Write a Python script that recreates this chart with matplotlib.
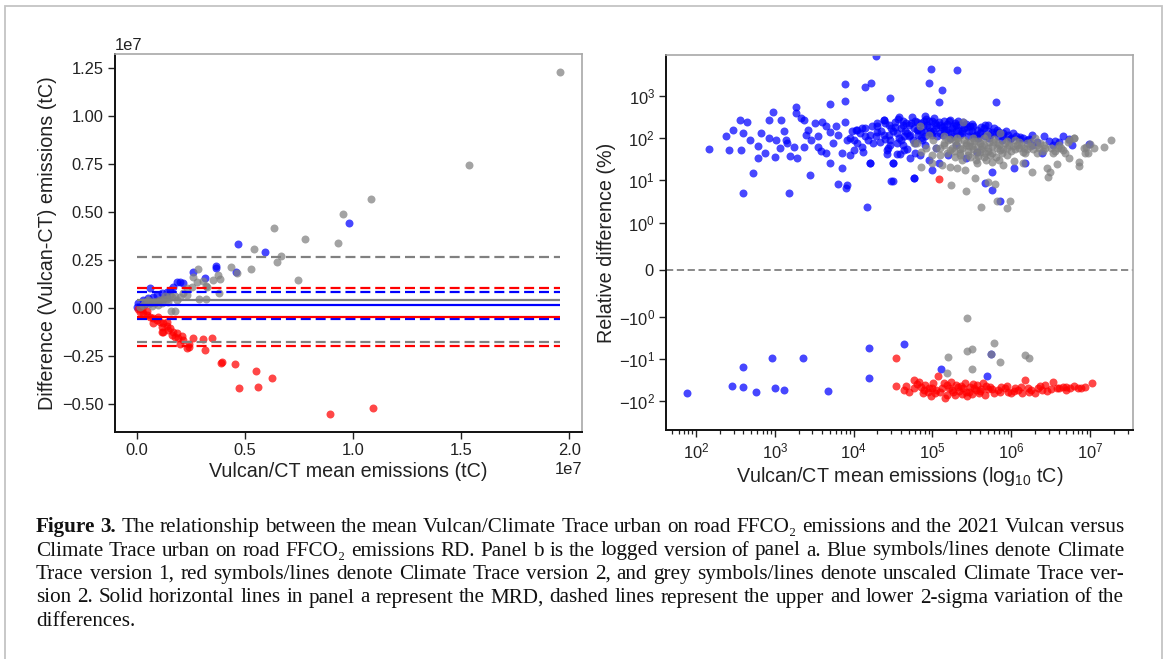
import matplotlib
matplotlib.use("Agg")
import matplotlib.pyplot as plt
import numpy as np
from matplotlib.patches import Rectangle
from matplotlib.ticker import NullLocator, FixedLocator

plt.rcParams['font.family'] = ['Liberation Sans', 'DejaVu Sans']
plt.rcParams['mathtext.fontset'] = 'custom'
plt.rcParams['mathtext.rm'] = 'Liberation Sans'
plt.rcParams['mathtext.it'] = 'Liberation Sans:italic'
plt.rcParams['mathtext.bf'] = 'Liberation Sans:bold'
plt.rcParams['mathtext.default'] = 'regular'

# ---------------- Panel a data (units of 1e7 tC) ----------------
a_blue_mean = [0.981, 0.470, 0.595, 0.458, 0.368, 0.367, 0.262, 0.316, 0.185, 0.201, 0.216,
               0.170, 0.155, 0.139, 0.116, 0.093, 0.077, 0.054, 0.031, 0.008, 0.0, 0.062,
               0.02, 0.04, 0.06, 0.10, 0.12, 0.14]
a_blue_diff = [0.444, 0.335, 0.292, 0.188, 0.222, 0.208, 0.191, 0.160, 0.139, 0.139, 0.130,
               0.113, 0.095, 0.087, 0.078, 0.069, 0.061, 0.052, 0.043, 0.030, 0.005, 0.104,
               0.010, 0.020, 0.030, 0.040, 0.050, 0.060]

a_red_mean = [0.894, 1.094, 0.625, 0.550, 0.559, 0.471, 0.455, 0.395, 0.389, 0.350, 0.315,
              0.306, 0.235, 0.262, 0.240, 0.116, 0.016, 0.031, 0.047, 0.062, 0.077, 0.093,
              0.108, 0.124, 0.139, 0.155, 0.170, 0.185, 0.208, 0.116, 0.139, 0.100, 0.077,
              0.124, 0.162, 0.193, 0.216, 0.047, 0.023, 0.147, 0.177, 0.240, 0.201, 0.005]
a_red_diff = [-0.552, -0.521, -0.365, -0.325, -0.410, -0.413, -0.288, -0.278, -0.283, -0.156, -0.220,
              -0.161, -0.208, -0.156, -0.203, -0.122, -0.017, -0.026, -0.035, -0.043, -0.052, -0.061,
              -0.069, -0.078, -0.092, -0.104, -0.122, -0.130, -0.144, -0.095, -0.069, -0.043, -0.078,
              -0.122, -0.139, -0.156, -0.165, -0.012, -0.005, -0.113, -0.148, -0.186, -0.186, -0.003]

a_grey_mean = [1.958, 1.536, 1.083, 0.956, 0.929, 0.777, 0.634, 0.543, 0.669, 0.648, 0.529,
               0.435, 0.463, 0.747, 0.378, 0.386, 0.355, 0.285, 0.278, 0.321, 0.306, 0.262,
               0.289, 0.321, 0.232, 0.213, 0.235, 0.159, 0.177, 0.201, 0.185, 0.382,
               0.016, 0.031, 0.047, 0.062, 0.077, 0.093, 0.108, 0.124, 0.139, 0.162, 0.100,
               0.070, 0.039, 0.054, 0.085, 0.116, 0.147, 0.178, 0.131, 0.154, 0.324, 0.258]
a_grey_diff = [1.231, 0.747, 0.569, 0.490, 0.339, 0.363, 0.420, 0.309, 0.274, 0.243, 0.205,
               0.217, 0.182, 0.148, 0.174, 0.151, 0.148, 0.205, 0.135, 0.118, 0.144, 0.165,
               0.047, 0.050, 0.069, 0.082, 0.104, -0.012, -0.012, 0.061, 0.043, 0.078,
               0.005, 0.017, 0.026, 0.030, 0.035, 0.038, 0.043, 0.047, 0.050, 0.057, 0.017,
               0.012, 0.035, 0.043, 0.026, 0.030, 0.035, 0.064, 0.064, 0.069, 0.113, 0.113]

# mean relative difference and 2-sigma bounds (units of 1e7 tC): blue, red, grey
mrd_lines = {'blue': 0.0155, 'red': -0.045, 'grey': 0.044}
upper_lines = {'blue': 0.087, 'red': 0.104, 'grey': 0.266}
lower_lines = {'blue': -0.056, 'red': -0.194, 'grey': -0.177}

# ---------------- Panel b data (log10 tC, RD %) ----------------
b_blue_logmean = [4.28, 4.98, 5.31, 4.95, 5.12, 5.08, 4.46, 3.89, 4.22, 4.14, 3.89, 3.70, 5.81,
                  2.17, 2.42, 2.57, 2.56, 2.65, 2.60, 2.69, 2.78, 2.92, 2.93, 2.98, 3.00, 2.78,
                  2.72, 2.60, 3.18, 3.44, 3.27, 3.27, 3.33, 3.37, 3.14, 3.12, 3.19, 3.28, 3.42,
                  3.46, 3.51, 3.55, 3.60, 3.65, 3.58, 3.70, 3.78, 3.85, 3.92, 3.80, 3.90, 3.89,
                  4.01, 4.03, 4.10, 4.14, 4.21, 4.23, 4.30, 4.39, 4.46, 4.50, 4.50, 4.55, 4.60,
                  4.64, 4.73, 4.76, 4.78, 4.82, 4.87, 4.17, 3.85, 3.92, 4.01, 3.65, 3.37, 3.74,
                  4.10, 4.28, 4.42, 4.55, 4.64, 4.78, 2.38, 2.47, 2.83, 3.01, 3.06, 2.87, 3.24,
                  3.08, 3.15,
                  4.57, 4.74, 4.91, 5.08, 5.22, 5.39, 5.52, 5.67, 5.82, 5.96, 6.11, 6.26, 6.41,
                  6.56, 6.66, 6.77, 4.04, 4.14, 4.29, 4.38, 4.38, 4.50, 4.63, 4.72, 4.80, 4.91,
                  5.01, 5.14, 5.22, 5.35, 5.46, 5.58, 5.73, 5.88, 4.04, 4.12, 4.21, 4.42, 4.50,
                  4.59, 4.72, 4.84, 4.99, 5.08, 5.20, 4.48, 4.76, 5.67, 5.76, 5.86, 5.75, 6.04,
                  6.18, 5.43, 5.56, 6.39, 6.53, 6.98, 4.96, 4.63, 4.21, 4.33, 4.46, 3.95, 3.95,
                  6.26, 4.70, 4.85, 4.95, 5.05, 5.15, 5.25, 5.30, 4.65, 4.90, 5.00, 5.10, 5.20,
                  5.30, 5.40, 5.50, 5.60, 5.70, 5.80, 5.90, 6.00, 6.10, 6.20, 4.55, 4.45, 4.85,
                  5.45, 5.55, 5.65, 5.35, 5.15, 4.95, 5.02, 5.28,
                  4.35, 4.40, 4.48, 4.52, 4.58, 4.62, 4.68, 4.75, 4.78, 4.82, 4.88, 4.92, 4.97,
                  5.03, 5.06, 5.12, 5.18, 5.24, 5.27, 5.33, 5.37, 5.42, 5.48, 5.53, 5.62, 5.72,
                  5.78, 5.85, 5.93, 6.02, 4.44, 4.68, 4.90, 5.05, 5.30, 4.25, 4.30, 4.18, 4.08,
                  3.98, 3.80, 3.70, 3.55, 3.40,
                  4.40, 4.45, 4.52, 4.56, 4.60, 4.66, 4.70, 4.76, 4.80, 4.86, 4.89, 4.93, 4.98,
                  5.00, 5.04, 5.09, 5.13, 5.17, 5.21, 5.26, 5.32, 5.38, 5.44, 5.50, 5.56, 5.61,
                  5.66, 5.71, 5.76, 5.83, 5.90, 5.98, 6.06, 6.15, 6.23, 6.32, 6.48, 6.60, 6.73,
                  1.89, 2.46, 2.59, 2.60, 2.76, 2.97, 3.00, 3.12, 3.36, 3.68, 4.20, 4.20, 4.64,
                  5.11, 5.69, 5.74]
b_blue_rd = [8700, 4300, 4000, 2000, 1400, 700, 910, 1900, 2000, 1600, 740, 630, 710,
             55, 53, 53, 270, 245, 130, 91, 66, 100, 270, 420, 35, 34,
             15, 4.9, 5.0, 13.5, 560, 390, 300, 270, 91, 145, 37, 34, 160,
             91, 225, 63, 245, 190, 49, 26, 190, 20, 7.9, 8.2, 6.6, 245,
             91, 160, 175, 110, 26, 190, 225, 270, 91, 26, 9.8, 42, 175,
             110, 225, 11.7, 76, 160, 91, 2.4, 45, 91, 53, 45, 63, 76,
             63, 110, 53, 76, 53, 45, 110, 160, 130, 91, 58, 45, 63,
             270, 76,
             310, 320, 340, 245, 270, 245, 190, 200, 160, 120, 105, 120, 115,
             87, 110, 69, 160, 175, 190, 270, 120, 145, 205, 120, 160, 110,
             145, 160, 100, 120, 145, 100, 120, 91, 76, 48, 26, 42, 26,
             42, 34, 40, 18, 26, 40, 9.8, 11.7, 8.7, 6.0, 3.3, 16, 20,
             26, 34, 48, 44, 69, 72, 31, 69, 120, 83, 69, 100, 40,
             69, 200, 230, 180, 200, 190, 170, 210, 150, 140, 120, 130, 140,
             150, 170, 150, 130, 150, 130, 110, 100, 95, 90, 130, 200, 100,
             110, 120, 170, 200, 250, 260, 300, 230,
             150, 95, 175, 240, 100, 260, 130, 90, 260, 120, 190, 280, 150,
             230, 110, 180, 220, 130, 110, 160, 130, 220, 190, 110, 180, 100,
             170, 140, 150, 130, 60, 55, 70, 60, 70, 75, 140, 90, 130,
             150, 120, 140, 110, 120,
             230, 120, 180, 280, 90, 230, 110, 170, 240, 150, 250, 200, 130,
             260, 170, 210, 120, 160, 250, 190, 260, 150, 180, 220, 160, 140,
             110, 200, 140, 110, 130, 95, 110, 100, 95, 80, 85, 80, 95,
             -66, -43, -46, -16, -60, -9.8, -50, -55, -9.8, -58, -5.5, -29, -4.5,
             -17, -26, -7.7]

b_red_logmean = [5.08, 4.54,
                 4.54, 4.67, 4.76, 4.76, 4.85, 4.94, 5.01, 5.03, 5.07, 5.12, 5.19, 5.23, 5.25,
                 5.32, 5.37, 5.41, 5.46, 5.53, 5.59, 5.64, 5.71, 5.78, 5.87, 5.96, 6.05, 6.17,
                 6.14, 6.25, 6.34, 6.43, 6.53, 6.61, 6.70, 6.80, 6.93, 7.02,
                 4.64, 4.83, 4.91, 4.98, 5.05, 5.14, 5.16, 5.21, 5.28, 5.30, 5.34, 5.39, 5.44,
                 5.48, 5.50, 5.55, 5.57, 5.62, 5.66, 5.73, 5.83, 5.92, 6.00, 6.09, 6.21, 6.30,
                 6.39, 6.50, 6.66, 6.75, 6.84, 4.96, 4.89,
                 4.70, 4.80, 4.88, 5.00, 5.10, 5.18, 5.26, 5.36, 5.42, 5.52, 5.60, 5.68, 5.76,
                 5.86, 5.95, 6.03, 6.12, 6.22, 6.36, 6.45, 6.58, 6.70, 6.88]
b_red_rd = [11, -9.8,
            -43, -43, -32, -50, -46, -60, -38, -66, -26, -50, -72, -35, -55,
            -46, -68, -38, -60, -50, -66, -38, -53, -63, -46, -60, -50, -31,
            -66, -55, -48, -42, -35, -50, -46, -44, -46, -37,
            -55, -35, -41, -76, -55, -38, -87, -50, -72, -41, -57, -50, -76,
            -46, -68, -55, -41, -53, -72, -46, -55, -50, -66, -55, -50, -63,
            -55, -53, -46, -50, -48, -50, -55,
            -60, -40, -66, -48, -62, -42, -60, -45, -62, -40, -58, -45, -52,
            -62, -44, -58, -47, -60, -44, -58, -48, -55, -50]

b_grey_logmean = [4.84, 4.95, 4.76, 4.86, 5.01, 5.14, 5.22, 5.31, 5.39, 5.43, 5.52, 5.60, 5.65,
                  5.77, 5.86, 5.94, 6.07, 6.15, 6.30, 6.41, 6.53, 6.66, 6.79, 6.92, 7.00, 6.72,
                  6.86, 6.97, 6.45, 6.49, 6.58, 6.26, 6.15, 6.03, 5.90, 5.79, 5.71, 5.82, 5.98,
                  5.94, 5.62, 5.43, 5.54, 5.24, 5.41, 5.31, 5.22, 5.12, 4.99, 4.86, 5.09, 5.56,
                  5.73, 5.35, 5.05, 4.80, 5.69, 5.86, 6.46, 6.73, 6.86, 6.59, 6.73, 6.80, 6.93,
                  7.05, 7.17, 7.27, 6.95, 6.32, 6.37,
                  5.25, 5.35, 5.45, 5.50, 5.55, 5.62, 5.70, 5.75, 5.85, 5.95, 6.00, 6.10, 6.20,
                  6.25, 6.35, 5.18, 5.28, 5.38, 5.48, 5.58, 5.68, 5.80, 5.15, 5.28, 5.40, 5.48,
                  5.58, 5.65, 5.78, 5.95, 6.05, 6.20,
                  5.20, 5.30, 5.42, 5.52, 5.60, 5.67, 5.72, 5.82, 5.88, 5.92, 6.02, 6.12, 6.18,
                  6.28, 6.40, 6.50, 6.60, 5.35, 5.45, 5.55, 5.65, 5.75, 5.85, 5.10, 5.00, 4.92,
                  5.15, 5.22, 5.27, 5.33, 5.38, 5.46, 5.53, 5.57, 5.63, 5.70, 5.76, 5.83, 5.90,
                  5.97, 6.05, 6.10, 6.16, 6.24, 6.33, 6.43, 6.55, 6.63, 6.68,
                  5.44, 5.44, 5.50, 5.78, 5.20, 5.19, 5.50, 5.86, 6.18, 6.23, 5.74]
b_grey_rd = [190, 120, 76, 48, 91, 76, 53, 100, 245, 69, 100, 48, 69,
             83, 53, 40, 69, 48, 100, 69, 44, 53, 100, 60, 72, 79,
             27, 44, 19.5, 16, 24, 16, 26, 29, 23, 8.2, 9.1, 3.2, 3.2,
             2.2, 2.4, 5.5, 11.2, 7.9, 18, 19.5, 21, 23, 26, 21, 40, 26,
             40, 40, 58, 76, 120, 130, 12, 34, 22, 58, 91, 100, 45,
             58, 63, 91, 63, 45, 76,
             60, 55, 50, 65, 45, 55, 60, 45, 70, 60, 50, 60, 55,
             80, 60, 45, 35, 30, 35, 38, 30, 35, 110, 85, 90, 80,
             85, 100, 95, 85, 90, 75,
             90, 70, 75, 55, 75, 45, 80, 60, 45, 75, 65, 70, 45,
             55, 50, 60, 70, 45, 40, 30, 35, 28, 30, 60, 40, 60,
             70, 95, 50, 85, 60, 65, 85, 60, 65, 50, 65, 75, 55,
             70, 55, 80, 60, 65, 70, 60, 50, 60, 45,
             -1.1, -6.4, -5.9, -4.3, -9.2, -22, -17, -12, -8.1, -9.8, -7.7]

b_yticks = [-100, -10, -1, 0, 1, 10, 100, 1000]

caption_lines = [
    [("Figure 3.", "bold"),
     ("The relationship between the mean Vulcan/Climate Trace urban on road FFCO\u2082 emissions and the 2021 Vulcan versus", "normal")],
    [("Climate Trace urban on road FFCO\u2082 emissions RD. Panel b is the logged version of panel a. Blue symbols/lines denote Climate", "normal")],
    [("Trace version 1, red symbols/lines denote Climate Trace version 2, and grey symbols/lines denote unscaled Climate Trace ver-", "normal")],
    [("sion 2. Solid horizontal lines in panel a represent the MRD, dashed lines represent the upper and lower 2-sigma variation of the", "normal")],
    [("differences.", "normal")],
]

# ---------------- figure ----------------
W, H = 1165, 659
fig = plt.figure(figsize=(W / 100, H / 100), dpi=100)
fig.patch.set_facecolor('white')

def px_axes(l, t, r, b):
    return [l / W, 1 - b / H, (r - l) / W, (b - t) / H]

axL = fig.add_axes(px_axes(114.8, 54.3, 582, 431.7))
axR = fig.add_axes(px_axes(666, 55, 1133, 430))

cols = {'blue': '#0000ff', 'red': '#ff0000', 'grey': '#808080'}
sc_kw = dict(s=33, alpha=0.72, linewidths=0)
scale = 1e7

axL.scatter(np.array(a_blue_mean) * scale, np.array(a_blue_diff) * scale, color=cols['blue'], zorder=2, **sc_kw)
axL.scatter(np.array(a_red_mean) * scale, np.array(a_red_diff) * scale, color=cols['red'], zorder=2, **sc_kw)
axL.scatter(np.array(a_grey_mean) * scale, np.array(a_grey_diff) * scale, color=cols['grey'], zorder=2, **sc_kw)

allx = a_blue_mean + a_red_mean + a_grey_mean
xmin, xmax = min(allx) * scale, max(allx) * scale
for key in ['grey', 'blue', 'red']:
    axL.hlines(mrd_lines[key] * scale, xmin, xmax, color=cols[key], lw=1.6, zorder=3)
    axL.hlines([upper_lines[key] * scale, lower_lines[key] * scale], xmin, xmax,
               color=cols[key], lw=1.6, linestyles=(0, (4.5, 2.2)), zorder=3)

axL.set_xlim(-0.1008 * scale, 2.0587 * scale)
axL.set_ylim(-0.643 * scale, 1.323 * scale)
axL.set_xticks(np.array([0, 0.5, 1.0, 1.5, 2.0]) * scale)
axL.set_yticks(np.array([-0.5, -0.25, 0, 0.25, 0.5, 0.75, 1.0, 1.25]) * scale)
axL.set_xlabel('Vulcan/CT mean emissions (tC)', fontsize=14.2, color='#222222', labelpad=3)
axL.set_ylabel('Difference (Vulcan-CT) emissions (tC)', fontsize=14.2, color='#222222', labelpad=4)

# panel b
axR.scatter(10 ** np.array(b_blue_logmean), b_blue_rd, color=cols['blue'], zorder=2, **sc_kw)
axR.scatter(10 ** np.array(b_red_logmean), b_red_rd, color=cols['red'], zorder=2, **sc_kw)
axR.scatter(10 ** np.array(b_grey_logmean), b_grey_rd, color=cols['grey'], zorder=2, **sc_kw)
axR.set_xscale('log')
axR.set_yscale('symlog', linthresh=1, linscale=1)
axR.axhline(0, color='#808080', lw=1.3, ls=(0, (4, 2)), zorder=1)
axR.set_xlim(10 ** 1.619, 10 ** 7.544)
axR.set_ylim(-485, 9300)
axR.yaxis.set_major_locator(FixedLocator(b_yticks))
axR.yaxis.set_minor_locator(NullLocator())
axR.set_xlabel('Vulcan/CT mean emissions (log$_{10}$ tC)', fontsize=14.2, color='#222222', labelpad=3)
axR.set_ylabel('Relative difference (%)', fontsize=14.2, color='#222222', labelpad=2)

for ax in (axL, axR):
    ax.tick_params(which='major', direction='out', length=5, width=1.0, labelsize=11.9,
                   color='#222222', labelcolor='#222222', pad=3)
    ax.tick_params(which='minor', direction='out', length=2.8, width=0.9, color='#222222')
    for s in ('left', 'bottom'):
        ax.spines[s].set_color('#111111')
        ax.spines[s].set_linewidth(1.4)
    for s in ('top', 'right'):
        ax.spines[s].set_color('#a8a8a8')
        ax.spines[s].set_linewidth(1.2)
axL.yaxis.get_offset_text().set_fontsize(11.9)
axL.xaxis.get_offset_text().set_fontsize(11.9)

# outer frame
fig.patches.append(Rectangle((5 / W, -0.02), (1162 - 5) / W, 1 - 6 / H + 0.02,
                             transform=fig.transFigure, fill=False, ec='#c4c4c4', lw=1.3))

# caption (justified)
renderer = fig.canvas.get_renderer()
cap_font = dict(family=['Liberation Serif', 'DejaVu Serif'], fontsize=15.2, color='#111111')
x_left, x_right = 36, 1124
baselines = [532, 555.5, 579, 602.5, 626]
for i, segs in enumerate(caption_lines):
    words = []
    for text, weight in segs:
        for w in text.split(' '):
            if w:
                words.append((w, weight))
    arts = [fig.text(0, 0, w, fontweight=wt, va='baseline', ha='left', **cap_font) for w, wt in words]
    widths = [a.get_window_extent(renderer).width for a in arts]
    last = (i == len(caption_lines) - 1)
    if last or len(words) < 2:
        gap = 5.0
    else:
        gap = (x_right - x_left - sum(widths)) / (len(words) - 1)
    x = x_left
    for a, w in zip(arts, widths):
        a.set_position((x / W, 1 - baselines[i] / H))
        x += w + gap

fig.savefig('out.png', dpi=100)
